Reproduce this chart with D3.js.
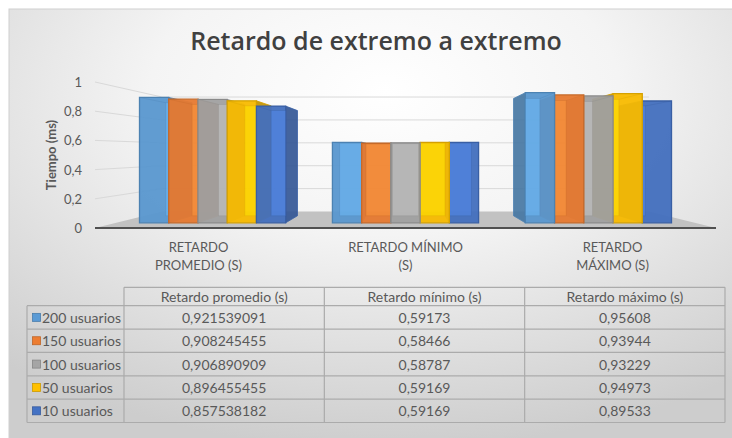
<!DOCTYPE html>
<html>
<head>
<meta charset="utf-8">
<script src="https://cdn.jsdelivr.net/npm/d3@7"></script>
<style>
  body { margin: 0; background: #ffffff; }
  svg { display: block; font-family: Lato, "Open Sans", sans-serif; }
</style>
</head>
<body>
<svg id="chart" width="732" height="438"></svg>
<script>
// ---- data ----
const title = "Retardo de extremo a extremo";
const yTitle = "Tiempo (ms)";
const categories = ["Retardo promedio (s)", "Retardo mínimo (s)", "Retardo máximo (s)"];
const categoryLabels = [["RETARDO", "PROMEDIO (S)"], ["RETARDO MÍNIMO", "(S)"], ["RETARDO", "MÁXIMO (S)"]];
const series = ["200 usuarios", "150 usuarios", "100 usuarios", "50 usuarios", "10 usuarios"];
const colors = ["#5b9bd5", "#ed7d31", "#a5a5a5", "#ffc000", "#4472c4"];
const promedio = [0.921539091, 0.908245455, 0.906890909, 0.896455455, 0.857538182];
const minimo = [0.59173, 0.58466, 0.58787, 0.59169, 0.59169];
const maximo = [0.95608, 0.93944, 0.93229, 0.94973, 0.89533];
const yTicks = [0, 0.2, 0.4, 0.6, 0.8, 1];

const valuesByCategory = [promedio, minimo, maximo];

// ---- setup ----
const svg = d3.select("#chart");
const W = 732, H = 438;
const textColor = "#595959";

const locale = d3.formatLocale({ decimal: ",", thousands: ".", grouping: [3], currency: ["", "€"] });
const tickFmt = locale.format(".1~f");
const cellFmt = v => String(v).replace(".", ",");

// background panel with radial shading
const defs = svg.append("defs");
const bg = defs.append("radialGradient").attr("id", "bgGrad")
  .attr("cx", 0.5).attr("cy", 0.18).attr("r", 0.78).attr("fx", 0.5).attr("fy", 0.18);
bg.append("stop").attr("offset", "0%").attr("stop-color", "#ffffff");
bg.append("stop").attr("offset", "40%").attr("stop-color", "#f4f4f4");
bg.append("stop").attr("offset", "100%").attr("stop-color", "#cdcdcd");

svg.append("rect").attr("x", 9).attr("y", 9).attr("width", W + 20).attr("height", H + 20)
  .attr("fill", "url(#bgGrad)").attr("stroke", "#d0d0d0").attr("stroke-width", 1);

// ---- scales & perspective ----
const x0 = d3.scaleBand().domain(categories).range([95, 716]).paddingInner(0).paddingOuter(0);
const x1 = d3.scaleBand().domain(series).range([0, x0.bandwidth()]).paddingInner(0).paddingOuter(0.8);
const y = d3.scaleLinear().domain([0, 1]).range([228, 82]);

const vx = (x0.range()[0] + x0.range()[1]) / 2;   // vanishing point
const vy = 151.6;
const kWall = 0.784, kFront = 0.932, kBack = 0.84;
const proj = (X, Y, k) => [vx + (X - vx) * k, vy + (Y - vy) * k];
const pts = arr => arr.map(p => p.join(",")).join(" ");

const plot = svg.append("g");

// floor
const xL = x0.range()[0], xR = x0.range()[1];
const floorPts = [proj(xL, y(0), 1), proj(xR, y(0), 1), proj(xR, y(0), kWall), proj(xL, y(0), kWall)];
plot.append("polygon").attr("points", pts(floorPts)).attr("fill", "#c2c2c2");

// gridlines on the side and back walls
yTicks.filter(t => t > 0).forEach(t => {
  const a = proj(xL, y(t), 1), b = proj(xL, y(t), kWall), c = proj(xR, y(t), kWall);
  plot.append("polyline").attr("points", pts([a, b, c]))
    .attr("fill", "none").attr("stroke", "#d9d9d9").attr("stroke-width", 1);
});

// axis front edge
plot.append("line").attr("x1", xL).attr("x2", xR).attr("y1", y(0)).attr("y2", y(0))
  .attr("stroke", "#505050").attr("stroke-width", 2);

// y tick labels
svg.append("g").selectAll("text").data(yTicks).join("text")
  .attr("x", 82).attr("y", d => y(d)).attr("text-anchor", "end").attr("dominant-baseline", "central")
  .attr("font-size", 13).attr("fill", textColor).text(tickFmt);

// y title
svg.append("text").attr("transform", "translate(51,155) rotate(-90)")
  .attr("text-anchor", "middle").attr("dominant-baseline", "central")
  .attr("font-size", 13).attr("font-weight", 700).attr("fill", textColor).text(yTitle);

// chart title
svg.append("text").attr("x", 376).attr("y", 50).attr("text-anchor", "middle")
  .attr("font-family", "'Open Sans', Lato, sans-serif")
  .attr("font-size", 25).attr("font-weight", 600).attr("fill", "#404040").text(title);

// ---- 3D bars ----
const bars = [];
categories.forEach((cat, ci) => {
  series.forEach((s, si) => {
    const v = valuesByCategory[ci][si];
    const X0 = x0(cat) + x1(s), X1 = X0 + x1.bandwidth();
    bars.push({ cat, s, si, v, X0, X1, cx: (X0 + X1) / 2 });
  });
});
// paint the bars farthest from the centre first
bars.sort((a, b) => Math.abs(b.cx - vx) - Math.abs(a.cx - vx));

const barG = plot.append("g");
bars.forEach(b => {
  const col = d3.color(colors[b.si]);
  const edge = col.darker(0.5).formatHex();
  const Yt = y(b.v), Yb = y(0);
  const f = { tl: proj(b.X0, Yt, kFront), tr: proj(b.X1, Yt, kFront), br: proj(b.X1, Yb, kFront), bl: proj(b.X0, Yb, kFront) };
  const k = { tl: proj(b.X0, Yt, kBack), tr: proj(b.X1, Yt, kBack), br: proj(b.X1, Yb, kBack), bl: proj(b.X0, Yb, kBack) };
  const g = barG.append("g");
  // side face toward the viewer's centre
  const side = b.cx < vx ? [f.tr, k.tr, k.br, f.br] : [f.tl, k.tl, k.bl, f.bl];
  g.append("polygon").attr("points", pts(side))
    .attr("fill", col.darker(0.75).formatHex()).attr("fill-opacity", 0.92)
    .attr("stroke", edge).attr("stroke-width", 0.8);
  // front face
  g.append("polygon").attr("points", pts([f.tl, f.tr, f.br, f.bl]))
    .attr("fill", col.darker(0.08).formatHex()).attr("fill-opacity", 0.95)
    .attr("stroke", edge).attr("stroke-width", 1.3);
  // glassy inner wall: the back face seen through the front face
  const ix0 = Math.max(f.tl[0], k.tl[0]), ix1 = Math.min(f.tr[0], k.tr[0]);
  g.append("rect").attr("x", ix0).attr("y", k.tl[1]).attr("width", ix1 - ix0).attr("height", k.bl[1] - k.tl[1])
    .attr("fill", col.brighter(0.6).formatHex()).attr("fill-opacity", 0.45)
    .attr("stroke", edge).attr("stroke-opacity", 0.35).attr("stroke-width", 0.8);
  // receding top edge
  const topEdge = b.cx < vx ? [f.tl, k.tl] : [f.tr, k.tr];
  g.append("line").attr("x1", topEdge[0][0]).attr("y1", topEdge[0][1]).attr("x2", topEdge[1][0]).attr("y2", topEdge[1][1])
    .attr("stroke", edge).attr("stroke-opacity", 0.4).attr("stroke-width", 0.8);
});

// category labels
const catG = svg.append("g");
categories.forEach((cat, ci) => {
  const cx = x0(cat) + x0.bandwidth() / 2;
  categoryLabels[ci].forEach((line, li) => {
    catG.append("text").attr("x", cx).attr("y", 247 + li * 18)
      .attr("text-anchor", "middle").attr("dominant-baseline", "central")
      .attr("font-size", 13).attr("fill", textColor).text(line);
  });
});

// ---- data table ----
const tLeft = 27, tTop = 287.3;
const colX = d3.scaleBand().domain(categories).range([124, 725]);
const rowY = d3.scaleBand().domain(series).range([305.7, 422.5]);
const tbl = svg.append("g");
const lineC = "#ababab";
const cellSize = 14;

// header row
tbl.append("line").attr("x1", colX.range()[0]).attr("x2", colX.range()[1])
  .attr("y1", tTop).attr("y2", tTop).attr("stroke", lineC).attr("stroke-width", 1.2);
categories.forEach(cat => {
  tbl.append("text").attr("x", colX(cat) + colX.bandwidth() / 2).attr("y", (tTop + rowY.range()[0]) / 2)
    .attr("text-anchor", "middle").attr("dominant-baseline", "central")
    .attr("font-size", cellSize).attr("fill", textColor).text(cat);
});
// row boundaries
[...series.map(s => rowY(s)), rowY.range()[1]].forEach(yy => {
  tbl.append("line").attr("x1", tLeft).attr("x2", colX.range()[1]).attr("y1", yy).attr("y2", yy)
    .attr("stroke", lineC).attr("stroke-width", 1.2);
});
// column boundaries
tbl.append("line").attr("x1", tLeft).attr("x2", tLeft).attr("y1", rowY.range()[0]).attr("y2", rowY.range()[1])
  .attr("stroke", lineC).attr("stroke-width", 1.2);
[...categories.map(c => colX(c)), colX.range()[1]].forEach(xx => {
  tbl.append("line").attr("x1", xx).attr("x2", xx).attr("y1", tTop).attr("y2", rowY.range()[1])
    .attr("stroke", lineC).attr("stroke-width", 1.2);
});
// rows
series.forEach((s, si) => {
  const cy = rowY(s) + rowY.bandwidth() / 2;
  tbl.append("rect").attr("x", 32.5).attr("y", cy - 4).attr("width", 8).attr("height", 8)
    .attr("fill", colors[si]).attr("stroke", d3.color(colors[si]).darker(0.6).formatHex()).attr("stroke-width", 0.8);
  tbl.append("text").attr("x", 42).attr("y", cy).attr("dominant-baseline", "central")
    .attr("font-size", cellSize).attr("fill", textColor).text(s);
  categories.forEach((cat, ci) => {
    tbl.append("text").attr("x", colX(cat) + colX.bandwidth() / 2).attr("y", cy)
      .attr("text-anchor", "middle").attr("dominant-baseline", "central")
      .attr("font-size", cellSize).attr("fill", textColor).text(cellFmt(valuesByCategory[ci][si]));
  });
});
</script>
</body>
</html>
